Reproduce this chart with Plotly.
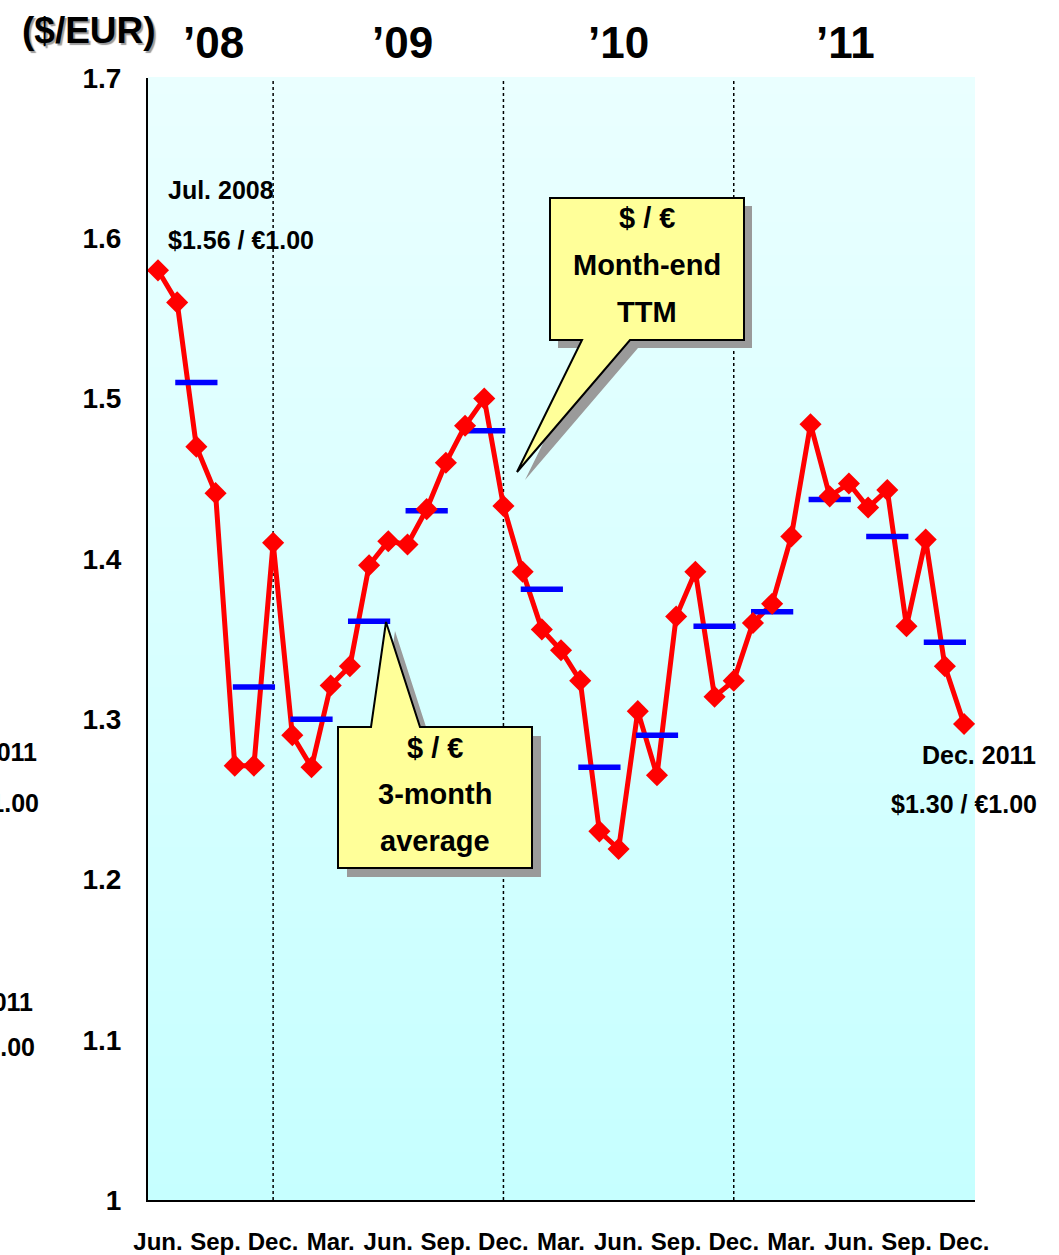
import plotly.graph_objects as go

# Month-end USD/EUR rate, Jun 2008 .. Dec 2011
months = ["Jun 2008", "Jul 2008", "Aug 2008", "Sep 2008", "Oct 2008", "Nov 2008", "Dec 2008",
          "Jan 2009", "Feb 2009", "Mar 2009", "Apr 2009", "May 2009", "Jun 2009", "Jul 2009",
          "Aug 2009", "Sep 2009", "Oct 2009", "Nov 2009", "Dec 2009",
          "Jan 2010", "Feb 2010", "Mar 2010", "Apr 2010", "May 2010", "Jun 2010", "Jul 2010",
          "Aug 2010", "Sep 2010", "Oct 2010", "Nov 2010", "Dec 2010",
          "Jan 2011", "Feb 2011", "Mar 2011", "Apr 2011", "May 2011", "Jun 2011", "Jul 2011",
          "Aug 2011", "Sep 2011", "Oct 2011", "Nov 2011", "Dec 2011"]
month_end_rate = [1.580, 1.560, 1.470, 1.441, 1.271, 1.271, 1.410,
                  1.290, 1.270, 1.321, 1.333, 1.396, 1.411, 1.409, 1.431, 1.460, 1.483, 1.500, 1.433,
                  1.392, 1.356, 1.343, 1.324, 1.230, 1.219, 1.305, 1.265, 1.364, 1.392, 1.314, 1.324,
                  1.360, 1.372, 1.414, 1.484, 1.439, 1.447, 1.432, 1.443, 1.358, 1.412, 1.333, 1.297]

# Quarterly 3-month averages, centred on the middle month of each quarter
quarter_mid_month = ["Aug 2008", "Nov 2008", "Feb 2009", "May 2009", "Aug 2009", "Nov 2009",
                     "Feb 2010", "May 2010", "Aug 2010", "Nov 2010", "Feb 2011", "May 2011",
                     "Aug 2011", "Nov 2011"]
quarter_avg = [1.510, 1.320, 1.300, 1.361, 1.430, 1.480, 1.381, 1.270, 1.290, 1.358,
               1.367, 1.437, 1.414, 1.348]

tick_labels = ["Jun.", "Sep.", "Dec.", "Mar.", "Jun.", "Sep.", "Dec.", "Mar.", "Jun.", "Sep.",
               "Dec.", "Mar.", "Jun.", "Sep.", "Dec."]
year_labels = ["\u201908", "\u201909", "\u201910", "\u201911"]
y_ticks = [1.0, 1.1, 1.2, 1.3, 1.4, 1.5, 1.6, 1.7]
y_tick_text = ["1", "1.1", "1.2", "1.3", "1.4", "1.5", "1.6", "1.7"]
year_end_months = ["Dec 2008", "Dec 2009", "Dec 2010"]

FONT = "Liberation Sans, Arial, sans-serif"
W, H = 1059, 1255
L, R, T, B = 148, 975, 78, 1200  # plot area edges in pixels


def px(x):
    return (x - L) / (R - L)


def py(y):
    return (B - y) / (B - T)


xi = list(range(len(months)))
pos = {m: i for i, m in enumerate(months)}

# blue dashes for the 3-month averages
half = 1.1
dash_x, dash_y = [], []
for m, v in zip(quarter_mid_month, quarter_avg):
    c = pos[m]
    dash_x += [c - half, c + half, None]
    dash_y += [v, v, None]

fig = go.Figure()
fig.add_trace(go.Scatter(x=xi, y=month_end_rate, mode="lines",
                         line=dict(color="#ff0000", width=5), hoverinfo="skip"))
fig.add_trace(go.Scatter(x=dash_x, y=dash_y, mode="lines",
                         line=dict(color="#0000ff", width=5.5), hoverinfo="skip"))
fig.add_trace(go.Scatter(x=xi, y=month_end_rate, mode="markers",
                         marker=dict(symbol="diamond", size=17, color="#ff0000",
                                     line=dict(width=0))))

shapes = []
# vertical gradient background of the plot area
n_bands = 70
top_rgb = (234, 255, 255)
bot_rgb = (198, 255, 255)
for k in range(n_bands):
    t = (k + 0.5) / n_bands
    c = tuple(round(b + (a - b) * t) for a, b in zip(top_rgb, bot_rgb))
    shapes.append(dict(type="rect", xref="paper", yref="paper", x0=0, x1=1,
                       y0=k / n_bands, y1=(k + 1) / n_bands + 0.001, layer="below",
                       line=dict(width=0), fillcolor="rgb(%d,%d,%d)" % c))
# dotted year separators
for m in year_end_months:
    shapes.append(dict(type="line", xref="x", yref="paper", x0=pos[m], x1=pos[m], y0=0, y1=1,
                       layer="below", line=dict(color="black", width=1.5, dash="dot")))


def callout(points, dx, dy):
    def path(ox, oy):
        return "M " + " L ".join("%f,%f" % (px(x + ox), py(y + oy)) for x, y in points) + " Z"
    return [
        dict(type="path", xref="paper", yref="paper", path=path(dx, dy), layer="above",
             fillcolor="#9a9a9a", line=dict(width=0)),
        dict(type="path", xref="paper", yref="paper", path=path(0, 0), layer="above",
             fillcolor="#ffff99", line=dict(color="black", width=2)),
    ]


# "Month-end TTM" callout
shapes += callout([(550, 198), (744, 198), (744, 340), (630, 340), (517, 472), (582, 340),
                   (550, 340)], 8, 8)
# "3-month average" callout
shapes += callout([(338, 727), (371, 727), (386, 622), (420, 727), (532, 727), (532, 868),
                   (338, 868)], 9, 9)

ann = []


def text(x, y, s, size, xanchor="center", shadow="none"):
    ann.append(dict(x=px(x), y=py(y), xref="paper", yref="paper", text=s, showarrow=False,
                    xanchor=xanchor, yanchor="middle",
                    font=dict(family=FONT, size=size, color="black", weight="bold",
                              shadow=shadow)))


# axis unit with drop shadow
text(89, 31, "($/EUR)", 37, shadow="2px 2px 1px #9a9a9a")
# year headers
for s, x in zip(year_labels, [213, 402, 618, 845]):
    text(x, 42, s, 44)

# callout texts
for s, y in zip(["$ / \u20ac", "Month-end", "TTM"], [218, 265, 312]):
    text(647, y, s, 29)
for s, y in zip(["$ / \u20ac", "3-month", "average"], [748, 794, 841]):
    text(435, y, s, 29)

first = month_end_rate[pos["Jul 2008"]]
last = month_end_rate[pos["Dec 2011"]]
text(166, 190, "Jul. 2008", 25, xanchor="left")
text(166, 240, "$%.2f / \u20ac1.00" % first, 25, xanchor="left")
text(1038, 755, "Dec. 2011", 25, xanchor="right")
text(1039, 804, "$%.2f / \u20ac1.00" % last, 25, xanchor="right")
# labels running off the left edge of the page
text(39, 752, "Dec. 2011", 25, xanchor="right")
text(41, 803, "$%.2f / \u20ac1.00" % last, 25, xanchor="right")
text(35, 1002, "Dec. 2011", 25, xanchor="right")
text(37, 1047, "$%.2f / \u20ac1.00" % last, 25, xanchor="right")

fig.update_layout(
    width=W, height=H,
    margin=dict(l=L, r=W - R, t=T, b=H - B, pad=0, autoexpand=False),
    paper_bgcolor="white", plot_bgcolor="#d8ffff",
    showlegend=False,
    shapes=shapes, annotations=ann,
    xaxis=dict(range=[-0.52, 42.57], showgrid=False, zeroline=False, automargin=False,
               showline=True, linecolor="black", linewidth=2,
               tickmode="array", tickvals=xi[::3], ticktext=tick_labels,
               ticks="", ticklabelstandoff=19,
               tickfont=dict(family=FONT, size=24, color="black", weight="bold")),
    yaxis=dict(range=[1.0, 1.7], showgrid=False, zeroline=False, automargin=False,
               showline=True, linecolor="black", linewidth=2,
               tickmode="array", tickvals=y_ticks, ticktext=y_tick_text,
               ticks="", ticklabelstandoff=19,
               tickfont=dict(family=FONT, size=28, color="black", weight="bold")),
)

fig.write_html("out.html")
